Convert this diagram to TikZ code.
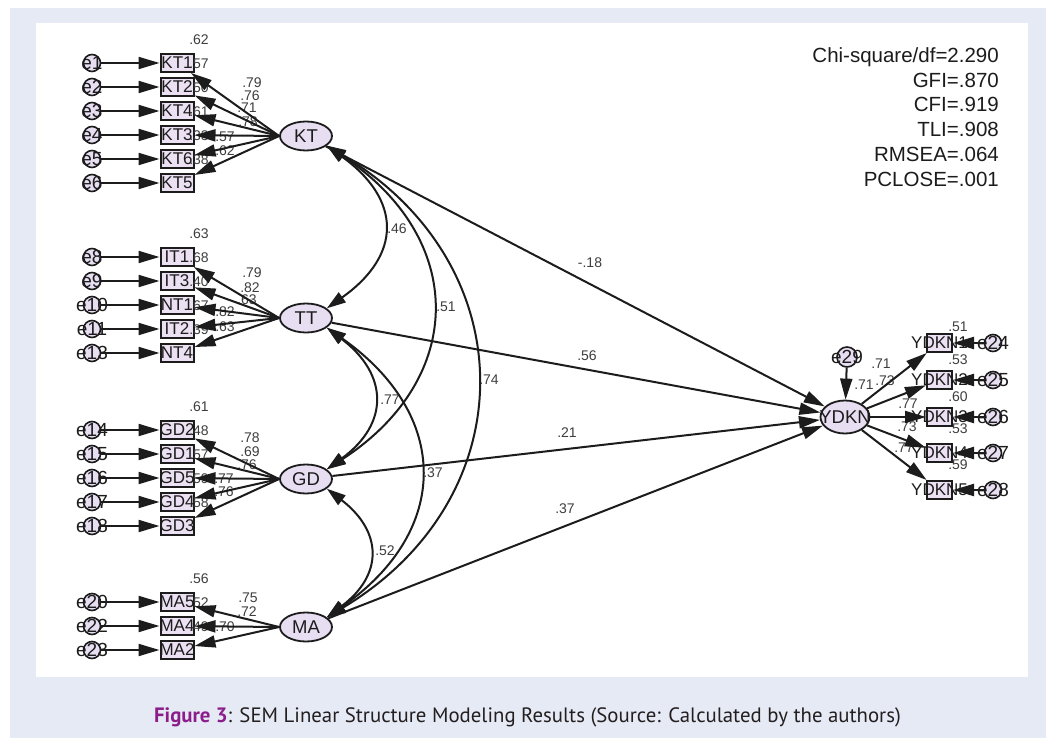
\documentclass[tikz,border=0pt]{standalone}
\usepackage{fontspec}
\setmainfont{Liberation Sans}
\newfontfamily\capfont{PT Sans}
\usetikzlibrary{arrows.meta,shapes.geometric}
\definecolor{pagebg}{RGB}{230,234,245}
\definecolor{latfill}{RGB}{232,222,242}
\definecolor{obsfill}{RGB}{236,224,243}
\definecolor{ink}{RGB}{28,28,28}
\definecolor{figpurple}{RGB}{140,30,140}
\definecolor{captext}{RGB}{35,31,32}
% zero-width text so the shapes keep their fixed size
\newcommand\zw[1]{\makebox[0pt]{#1}}
\begin{document}
\begin{tikzpicture}[x=1pt,y=-1pt,
  every node/.style={inner sep=0pt, text=ink},
  arr/.style={draw=ink, line width=2pt, -{Triangle[length=21pt,width=12pt]}},
  cov/.style={draw=ink, line width=2pt, {Triangle[length=19pt,width=12pt]}-{Triangle[length=19pt,width=12pt]}},
  latent/.style={ellipse, draw=ink, line width=1.8pt, fill=latfill, minimum width=52pt, minimum height=29pt, font=\fontsize{18.5}{18.5}\selectfont},
  obs/.style={rectangle, draw=ink, line width=2pt, fill=obsfill, minimum width=33pt, minimum height=18pt, font=\fontsize{17}{17}\selectfont},
  smallobs/.style={obs, minimum width=25pt},
  err/.style={circle, draw=ink, line width=1.6pt, fill=latfill, minimum size=17pt, font=\fontsize{19}{19}\selectfont},
  coef/.style={font=\fontsize{14}{14}\selectfont, text=ink!85},
  gof/.style={font=\fontsize{20.5}{20.5}\selectfont, anchor=base east},
]
% page and panel
\useasboundingbox (0,0) rectangle (1055,738);
\fill[white] (0,0) rectangle (1055,738);
\fill[pagebg] (10,8) rectangle (1046,738);
\fill[white] (36,23) rectangle (1028,677);

% ---------- latent factors ----------
\node[latent] (KT) at (306,136) {KT};
\node[latent] (TT) at (306,318) {TT};
\node[latent] (GD) at (306,479) {GD};
\node[latent] (MA) at (306,627) {MA};
\node[latent, minimum width=49pt, minimum height=33pt] (YDKN) at (845,417) {\zw{YDKN}};
\node[err, minimum size=20pt] (e29) at (847,357) {\zw{e29}};

% ---------- KT indicators ----------
\foreach \n/\lab/\e/\y in {kt1/KT1/e1/63, kt2/KT2/e2/87, kt4/KT4/e3/111, kt3/KT3/e4/135, kt6/KT6/e5/159, kt5/KT5/e6/183}{
  \node[obs] (\n) at (177,\y) {\zw{\lab}};
  \node[err] (\e) at (92,\y) {\zw{\e}};
}
% ---------- TT indicators ----------
\foreach \n/\lab/\e/\y in {it1/IT1/e8/257, it3/IT3/e9/281, nt1/NT1/e10/305, it2/IT2/e11/329, nt4/NT4/e13/353}{
  \node[obs] (\n) at (177,\y) {\zw{\lab}};
  \node[err] (\e) at (92,\y) {\zw{\e}};
}
% ---------- GD indicators ----------
\foreach \n/\lab/\e/\y in {gd2/GD2/e14/430, gd1/GD1/e15/454, gd5/GD5/e16/478, gd4/GD4/e17/502, gd3/GD3/e18/526}{
  \node[obs] (\n) at (177,\y) {\zw{\lab}};
  \node[err] (\e) at (92,\y) {\zw{\e}};
}
% ---------- MA indicators ----------
\foreach \n/\lab/\e/\y in {ma5/MA5/e20/602, ma4/MA4/e22/626, ma2/MA2/e23/650}{
  \node[obs] (\n) at (177,\y) {\zw{\lab}};
  \node[err] (\e) at (92,\y) {\zw{\e}};
}
% ---------- YDKN indicators ----------
\foreach \n/\lab/\e/\y in {yd1/YDKN1/e24/343, yd2/YDKN2/e25/380, yd3/YDKN3/e26/417, yd4/YDKN4/e27/453, yd5/YDKN5/e28/490}{
  \node[smallobs] (\n) at (939.5,\y) {\zw{\lab}};
  \node[err] (\e) at (993,\y) {\zw{\e}};
}

% ---------- squared multiple correlations ----------
\foreach \v/\y in {.62/40, .57/64, .50/88, .61/112, .33/136, .38/160,
                   .63/234, .68/258, .40/282, .67/306, .39/330,
                   .61/407, .48/431, .57/455, .59/479, .58/503,
                   .56/579, .52/603, .49/627}{
  \node[coef] at (199,\y) {\v};
}
\foreach \v/\y in {.51/327, .53/360, .60/397, .53/429, .59/465}{
  \node[coef] at (958,\y) {\v};
}
\node[coef] (r2y) at (864,385) {.71};

% ---------- loadings ----------
\foreach \v/\x/\y in {.79/252/83, .76/250/96, .71/247/108, .78/248/122, .57/225/136.5, .62/225/150.5,
                      .79/252/273, .82/250/288, .63/247/300, .82/225/312, .63/225/327,
                      .78/250/438, .69/250/452, .76/247/465, .77/224/479, .76/224/492,
                      .75/248/598, .72/247/612, .70/225/627,
                      .71/881/364, .73/885/381, .77/908/404, .73/907/427, .77/904/448}{
  \node[coef] at (\x,\y) {\v};
}
% ---------- structural paths and covariances ----------
\node[coef] (pKT) at (590,263) {-.18};
\node[coef] (pTT) at (587,356) {.56};
\node[coef] (pGD) at (567,433) {.21};
\node[coef] (pMA) at (565,509) {.37};
\node[coef] (cKTTT) at (397,229) {.46};
\node[coef] (cTTGD) at (390,400) {.77};
\node[coef] (cGDMA) at (385,551) {.52};
\node[coef] (cKTGD) at (446,307) {.51};
\node[coef] (cTTMA) at (433,473) {.37};
\node[coef] (cKTMA) at (489,380) {.74};

% error arrows
\foreach \e/\n in {e1/kt1, e2/kt2, e3/kt4, e4/kt3, e5/kt6, e6/kt5,
                   e8/it1, e9/it3, e10/nt1, e11/it2, e13/nt4,
                   e14/gd2, e15/gd1, e16/gd5, e17/gd4, e18/gd3,
                   e20/ma5, e22/ma4, e23/ma2,
                   e24/yd1, e25/yd2, e26/yd3, e27/yd4, e28/yd5}{
  \draw[arr] (\e) -- (\n);
}
\draw[arr] (e29) -- (YDKN);

% factor loadings
\foreach \n in {kt1,kt2,kt4,kt3,kt6,kt5}{\draw[arr] (KT.west) -- (\n);}
\foreach \n in {it1,it3,nt1,it2,nt4}{\draw[arr] (TT.west) -- (\n);}
\foreach \n in {gd2,gd1,gd5,gd4,gd3}{\draw[arr] (GD.west) -- (\n);}
\foreach \n in {ma5,ma4,ma2}{\draw[arr] (MA.west) -- (\n);}
\foreach \n in {yd1,yd2,yd3,yd4,yd5}{\draw[arr] (YDKN) -- (\n);}

% regressions on YDKN
\foreach \f in {KT,TT,GD,MA}{\draw[arr] (\f) -- (YDKN);}

% covariances between factors
\draw[cov] (KT.-25) .. controls (402,200) and (402,255) .. (TT.25);
\draw[cov] (TT.-25) .. controls (389,375) and (389,424) .. (GD.25);
\draw[cov] (GD.-25) .. controls (383,532) and (383,575) .. (MA.25);
\draw[cov] (KT.-25) .. controls (467,238) and (467,378) .. (GD.25);
\draw[cov] (TT.-25) .. controls (451,415) and (451,531) .. (MA.25);
\draw[cov] (KT.-25) .. controls (526,265) and (526,498) .. (MA.25);

% fit indices
\node[gof] (chi) at (999,62.3) {Chi-square/df=2.290};
\node[gof] (gfi) at (999,87.3) {GFI=.870};
\node[gof] (cfi) at (999,111.3) {CFI=.919};
\node[gof] (tli) at (999,136.3) {TLI=.908};
\node[gof] (rmsea) at (999,161.3) {RMSEA=.064};
\node[gof] (pclose) at (999,186.3) {PCLOSE=.001};

% caption
\node[font=\capfont\fontsize{20.8}{24}\selectfont, text=captext] (cap) at (527.5,717)
  {\textcolor{figpurple}{\bfseries Figure 3}: SEM Linear Structure Modeling Results (Source: Calculated by the authors)};
\end{tikzpicture}
\end{document}
